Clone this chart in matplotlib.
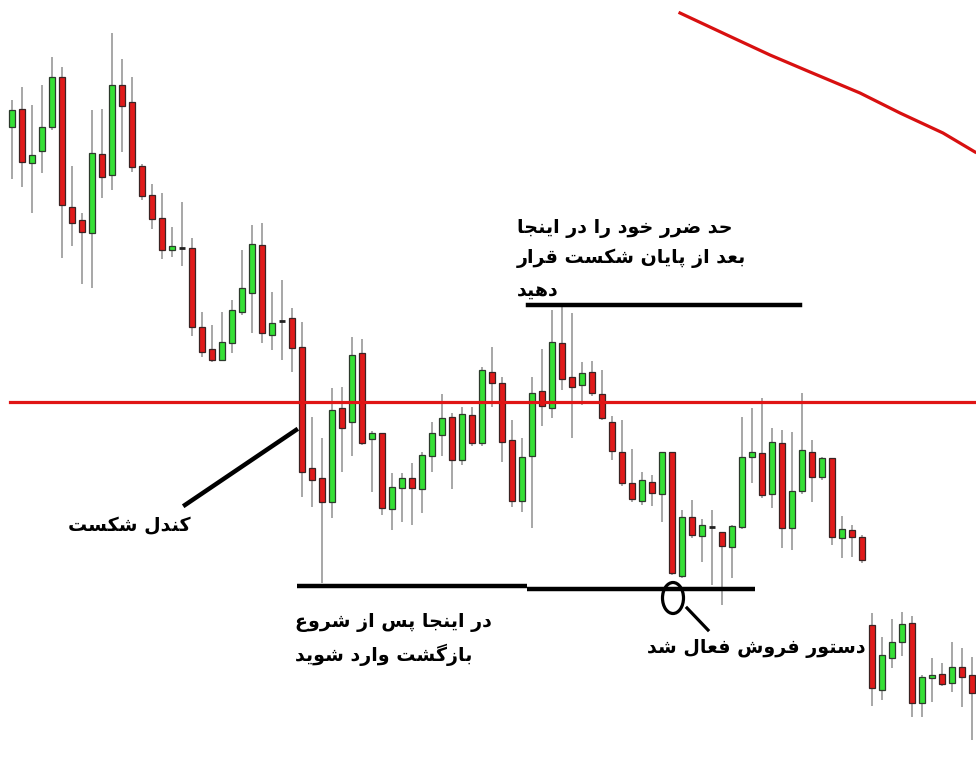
import matplotlib
matplotlib.use("Agg")
import matplotlib.pyplot as plt
from matplotlib.patches import Ellipse
import numpy as np

# candle data (price units), one row per bar
opens = [673, 691, 637, 649, 673, 723, 593, 580, 567, 646, 625, 715, 698, 634, 605, 582, 550, 552,
         552, 473, 451, 440, 457, 488, 507, 555, 465, 479, 482, 453, 332, 322, 298, 392, 378, 447,
         361, 367, 291, 312, 322, 311, 344, 365, 383, 340, 385, 357, 428, 417, 360, 299, 344, 409,
         392, 457, 423, 415, 428, 406, 378, 348, 317, 299, 318, 306, 348, 224, 283, 264, 273, 268,
         253, 273, 343, 347, 306, 357, 272, 309, 348, 323, 342, 262, 270, 263, 175, 110, 142, 158,
         177, 97, 122, 126, 117, 133, 125]
highs = [700, 713, 695, 715, 743, 733, 634, 587, 690, 691, 767, 741, 723, 636, 616, 607, 573, 598,
         562, 488, 475, 488, 500, 550, 575, 577, 508, 520, 492, 478, 383, 362, 412, 413, 463, 461,
         369, 367, 327, 327, 337, 348, 378, 406, 387, 393, 393, 433, 453, 423, 380, 362, 423, 451,
         490, 495, 487, 438, 439, 430, 384, 380, 351, 328, 325, 348, 348, 290, 300, 281, 290, 268,
         275, 383, 392, 402, 372, 370, 368, 407, 360, 343, 342, 284, 275, 265, 187, 163, 181, 188,
         184, 125, 142, 137, 158, 152, 143]
lows = [621, 613, 587, 627, 670, 542, 554, 516, 512, 602, 610, 648, 628, 600, 571, 541, 543, 534,
        464, 443, 438, 440, 447, 485, 467, 457, 450, 440, 428, 303, 293, 217, 282, 328, 344, 355,
        308, 285, 270, 278, 275, 287, 328, 344, 311, 335, 354, 354, 393, 338, 293, 288, 272, 374,
        382, 410, 362, 395, 404, 380, 340, 314, 298, 295, 294, 278, 225, 222, 262, 238, 215, 195,
        222, 271, 317, 302, 292, 252, 250, 306, 298, 320, 255, 242, 243, 237, 94, 100, 132, 144,
        83, 83, 98, 114, 108, 93, 60]
closes = [690, 638, 645, 673, 723, 595, 577, 568, 647, 623, 715, 694, 633, 604, 581, 550, 554, 552,
          473, 448, 440, 458, 490, 512, 556, 467, 477, 479, 452, 328, 320, 298, 390, 372, 445, 357,
          367, 292, 313, 322, 312, 345, 367, 382, 340, 386, 357, 430, 417, 358, 299, 343, 407, 394,
          458, 421, 413, 427, 407, 382, 349, 317, 301, 320, 307, 348, 227, 283, 265, 275, 273, 254,
          274, 343, 348, 305, 358, 272, 309, 350, 323, 342, 263, 271, 263, 240, 112, 145, 158, 176,
          97, 123, 125, 116, 133, 123, 107]

support_level = 398.5          # red horizontal level
stop_level = 495               # stop-loss line
entry_levels = [214, 211]      # entry line (two pieces)
entry_spans = [(28.5, 51.5), (51.5, 74.3)]
stop_span = (51.6, 78.8)

# moving average drawn at top right
ma_x = [66.8, 71.5, 75.8, 79.8, 84.8, 88.8, 93.1, 96.3]
ma_y = [787, 765, 745, 728, 707, 687, 667, 648]

# simple persian shaping (presentation forms) so letters join
DUAL = {
    'ب': (0xFE8F, 0xFE90, 0xFE91, 0xFE92), 'پ': (0xFB56, 0xFB57, 0xFB58, 0xFB59),
    'ت': (0xFE95, 0xFE96, 0xFE97, 0xFE98), 'ج': (0xFE9D, 0xFE9E, 0xFE9F, 0xFEA0),
    'ح': (0xFEA1, 0xFEA2, 0xFEA3, 0xFEA4), 'خ': (0xFEA5, 0xFEA6, 0xFEA7, 0xFEA8),
    'س': (0xFEB1, 0xFEB2, 0xFEB3, 0xFEB4), 'ش': (0xFEB5, 0xFEB6, 0xFEB7, 0xFEB8),
    'ض': (0xFEBD, 0xFEBE, 0xFEBF, 0xFEC0), 'ع': (0xFEC9, 0xFECA, 0xFECB, 0xFECC),
    'ف': (0xFED1, 0xFED2, 0xFED3, 0xFED4), 'ق': (0xFED5, 0xFED6, 0xFED7, 0xFED8),
    'ک': (0xFB8E, 0xFB8F, 0xFB90, 0xFB91), 'گ': (0xFB92, 0xFB93, 0xFB94, 0xFB95),
    'ل': (0xFEDD, 0xFEDE, 0xFEDF, 0xFEE0), 'م': (0xFEE1, 0xFEE2, 0xFEE3, 0xFEE4),
    'ن': (0xFEE5, 0xFEE6, 0xFEE7, 0xFEE8), 'ه': (0xFEE9, 0xFEEA, 0xFEEB, 0xFEEC),
    'ی': (0xFBFC, 0xFBFD, 0xFBFE, 0xFBFF),
}
RIGHT = {'ا': (0xFE8D, 0xFE8E), 'د': (0xFEA9, 0xFEAA), 'ر': (0xFEAD, 0xFEAE),
         'ز': (0xFEAF, 0xFEB0), 'و': (0xFEED, 0xFEEE)}


def farsi(s):
    out = []
    for i, ch in enumerate(s):
        if ch not in DUAL and ch not in RIGHT:
            out.append(ch)
            continue
        prev = s[i - 1] if i > 0 else ''
        nxt = s[i + 1] if i < len(s) - 1 else ''
        p = prev in DUAL
        q = ch in DUAL and (nxt in DUAL or nxt in RIGHT)
        if ch in DUAL:
            iso, fin, ini, med = DUAL[ch]
            code = med if (p and q) else fin if p else ini if q else iso
        else:
            iso, fin = RIGHT[ch]
            code = fin if p else iso
        out.append(chr(code))
    return ''.join(reversed(out))


fig = plt.figure(figsize=(9.76, 7.6), dpi=100)
ax = fig.add_axes([0, 0, 1, 1])
ax.set_xlim(-1.2, 96.4)
ax.set_ylim(40, 800)
ax.axis('off')

o = np.array(opens, float)
h = np.array(highs, float)
l = np.array(lows, float)
c = np.array(closes, float)
x = np.arange(len(o))

ax.vlines(x, l, h, color='#a0a0a0', lw=1.3, zorder=1)
up = c > o
dn = c < o
ax.bar(x[up], (c - o)[up], bottom=o[up], width=0.62, color='#35e035',
       edgecolor='#2d3a2d', lw=0.9, zorder=2)
ax.bar(x[dn], (o - c)[dn], bottom=c[dn], width=0.62, color='#e01a1a',
       edgecolor='#3a2323', lw=0.9, zorder=2)
dj = c == o
ax.hlines(o[dj], x[dj] - 0.3, x[dj] + 0.3, color='#222222', lw=2, zorder=2)

# levels
ax.plot([-0.2, 96.4], [support_level, support_level], color='#e01515', lw=2.3, zorder=3)
ax.plot(ma_x, ma_y, color='#d81010', lw=2.3, zorder=3)
ax.plot(stop_span, [stop_level, stop_level], color='black', lw=3.2, zorder=3)
for (a, b), lev in zip(entry_spans, entry_levels):
    ax.plot([a, b], [lev, lev], color='black', lw=3.2, zorder=3, solid_capstyle='butt')

# pointers
ax.plot([17.3, 28.4], [295, 370], color='black', lw=3.2, zorder=3)
ax.add_patch(Ellipse((66.1, 202), 2.1, 31, fill=False, ec='black', lw=2.3, zorder=4))
ax.plot([67.5, 69.6], [192, 170], color='black', lw=2.3, zorder=4)

tk = dict(fontsize=13.7, fontweight='bold', family='DejaVu Sans', color='black', va='center')
ax.text(5.6, 274, farsi('کندل شکست'), ha='left', **tk)
ax.text(50.5, 572, farsi('حد ضرر خود را در اینجا'), ha='left', **tk)
ax.text(50.5, 542, farsi('بعد از پایان شکست قرار'), ha='left', **tk)
ax.text(50.5, 510, farsi('دهید'), ha='left', **tk)
ax.text(28.3, 178, farsi('در اینجا پس از شروع'), ha='left', **tk)
ax.text(28.3, 145, farsi('بازگشت وارد شوید'), ha='left', **tk)
ax.text(63.5, 152, farsi('دستور فروش فعال شد'), ha='left', **tk)

fig.savefig('out.png', dpi=100, facecolor='white')
